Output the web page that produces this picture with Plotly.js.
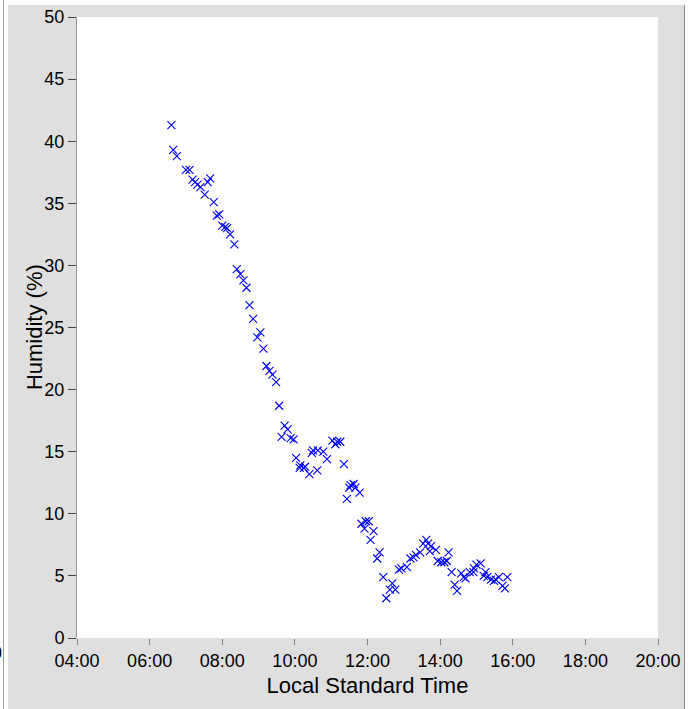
<!DOCTYPE html>
<html>
<head>
<meta charset="utf-8">
<script src="https://cdn.plot.ly/plotly-3.0.1.min.js"></script>
<style>
  html, body { margin: 0; padding: 0; background: #ffffff; width: 697px; height: 709px; overflow: hidden; position: relative; }
  #vline { position: absolute; left: 3px; top: 0; width: 1px; height: 709px; background: #a0a0a0; }
  #frame { position: absolute; left: 8px; top: 5px; width: 676px; height: 704px; background: #dfdfdf; border-right: 1px solid #888888; }
  #chart { position: absolute; left: 0; top: 0; width: 676px; height: 704px; }
  #stray { position: absolute; left: -8px; top: 643px; font: 18px "Liberation Sans", Arial, sans-serif; color: #000; }
</style>
</head>
<body>
<div id="vline"></div>
<div id="stray">0</div>
<div id="frame"><div id="chart"></div></div>
<script>
// Local standard time (HH:MM)
const times = [
  "06:36","06:39","06:45","07:00","07:06","07:11","07:15","07:19","07:24","07:31",
  "07:36","07:40","07:46","07:51","07:55","08:00","08:05","08:08","08:13","08:20",
  "08:24","08:30","08:35","08:40","08:45","08:51","08:58","09:03","09:08","09:13",
  "09:18","09:23","09:29","09:34","09:38","09:43","09:48","09:53","09:58","10:02",
  "10:08","10:09","10:15","10:17","10:24","10:28","10:30","10:38","10:37","10:47",
  "10:53","11:02","11:07","11:10","11:15","11:21","11:26","11:30","11:32","11:37",
  "11:40","11:47","11:50","11:55","11:57","12:02","12:05","12:10","12:16","12:20",
  "12:26","12:31","12:37","12:41","12:46","12:52","12:56","13:05","13:11","13:16",
  "13:20","13:27","13:32","13:37","13:40","13:43","13:45","13:53","13:56","14:02",
  "14:07","14:11","14:14","14:19","14:24","14:28","14:35","14:39","14:42","14:49",
  "14:55","14:56","15:00","15:07","15:12","15:15","15:18","15:24","15:29","15:32",
  "15:37","15:43","15:47","15:51"
];
// Humidity (%)
const humidity = [
  41.3, 39.3, 38.8, 37.7, 37.7, 36.9, 36.7, 36.5, 36.3, 35.7,
  36.7, 37.0, 35.1, 34.0, 34.1, 33.2, 33.1, 33.0, 32.5, 31.7,
  29.7, 29.3, 28.8, 28.2, 26.8, 25.7, 24.2, 24.6, 23.3, 21.9,
  21.5, 21.2, 20.6, 18.7, 16.2, 17.1, 16.8, 16.1, 16.0, 14.5,
  13.7, 13.9, 13.7, 13.8, 13.2, 14.9, 15.1, 15.1, 13.5, 15.0,
  14.4, 15.9, 15.6, 15.8, 15.8, 14.0, 11.2, 12.1, 12.3, 12.4,
  12.1, 11.7, 9.2, 8.8, 9.4, 9.4, 7.9, 8.6, 6.4, 6.9,
  4.9, 3.2, 3.9, 4.4, 3.9, 5.5, 5.6, 5.7, 6.4, 6.5,
  6.7, 6.9, 7.6, 7.9, 7.6, 7.0, 7.4, 7.1, 6.2, 6.1,
  6.1, 6.2, 6.9, 5.3, 4.3, 3.8, 5.2, 4.9, 4.8, 5.3,
  5.3, 5.6, 5.9, 6.0, 5.0, 5.3, 4.9, 4.7, 4.6, 4.7,
  4.9, 4.2, 4.0, 4.9
];
const xRange = ["04:00", "20:00"];
const day = "2000-01-01 ";
const yTitle = "Humidity (%)";
const xTitle = "Local Standard Time";

const font = '"Liberation Sans", Arial, Helvetica, sans-serif';

const trace = {
  type: "scatter",
  mode: "markers",
  x: times.map(t => day + t),
  y: humidity,
  marker: {
    symbol: "x-thin",
    size: 8,
    color: "#0000ff",
    line: { color: "#0000ff", width: 1.1 }
  },
  hoverinfo: "x+y"
};

const layout = {
  width: 676,
  height: 704,
  margin: { l: 69, r: 26, t: 12, b: 71, pad: 0 },
  paper_bgcolor: "#dfdfdf",
  plot_bgcolor: "#ffffff",
  showlegend: false,
  font: { family: font, size: 18, color: "#000000" },
  xaxis: {
    type: "date",
    range: xRange.map(t => day + t),
    dtick: 7200000,
    tick0: day + "04:00",
    tickformat: "%H:%M",
    showgrid: false,
    zeroline: false,
    showline: false,
    ticks: "outside",
    ticklen: 6,
    tickwidth: 1,
    tickcolor: "#808080",
    tickfont: { family: font, size: 18, color: "#000000" },
    title: { text: xTitle, font: { family: font, size: 22, color: "#000000" }, standoff: 8 },
    fixedrange: true
  },
  yaxis: {
    range: [0, 50],
    dtick: 5,
    tick0: 0,
    showgrid: false,
    zeroline: false,
    showline: true,
    linecolor: "#999999",
    linewidth: 1,
    ticks: "outside",
    ticklen: 8,
    tickwidth: 1,
    tickcolor: "#444444",
    tickfont: { family: font, size: 18, color: "#000000" },
    fixedrange: true
  },
  annotations: [{
    text: yTitle,
    xref: "paper", yref: "paper",
    x: -0.073, y: 0.5,
    xanchor: "center", yanchor: "middle",
    textangle: -90,
    showarrow: false,
    font: { family: font, size: 22, color: "#000000" }
  }]
};

Plotly.newPlot("chart", [trace], layout, { displayModeBar: false, staticPlot: true });
</script>
</body>
</html>
